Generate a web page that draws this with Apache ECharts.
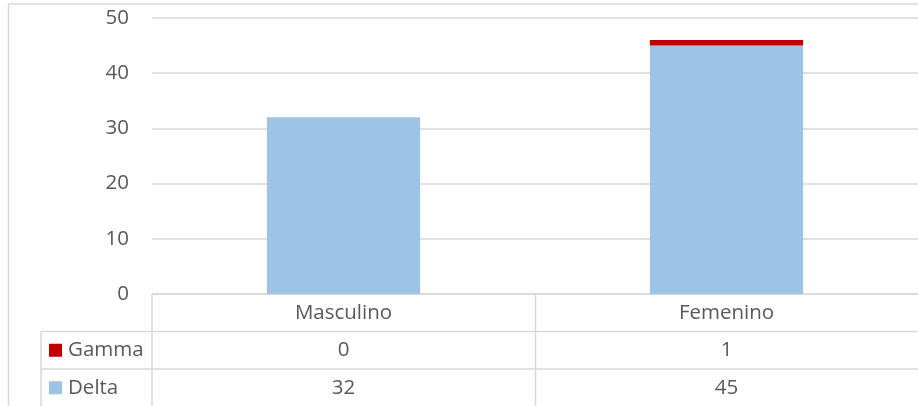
<!DOCTYPE html>
<html>
<head>
<meta charset="utf-8">
<script src="https://cdn.jsdelivr.net/npm/echarts@6/dist/echarts.min.js"></script>
<style>
html,body{margin:0;padding:0;background:#fff;}
#c{width:918px;height:406px;}
</style>
</head>
<body>
<div id="c"></div>
<script>
const categories = ['Masculino', 'Femenino'];
const seriesNames = ['Delta', 'Gamma'];
const deltaValues = [32, 45];
const gammaValues = [0, 1];
const yMin = 0, yMax = 50, yInterval = 10;

const FONT = '"Open Sans", sans-serif';
const FS = 20.5;
const TXT = '#595959';
const LINE = '#d9d9d9';
const colors = { Delta: '#9DC3E6', Gamma: '#C00000' };

const chart = echarts.init(document.getElementById('c'), null, { renderer: 'canvas' });

const option = {
  animation: false,
  backgroundColor: '#fff',
  grid: { left: 152, right: -1, top: 18, bottom: 112, containLabel: false },
  xAxis: {
    type: 'category',
    data: categories,
    axisLine: { show: false },
    axisTick: { show: false },
    axisLabel: { show: false },
    splitLine: { show: false }
  },
  yAxis: {
    type: 'value',
    min: yMin, max: yMax, interval: yInterval,
    axisLine: { show: false },
    axisTick: { show: false },
    axisLabel: { color: TXT, fontFamily: FONT, fontSize: FS, margin: 23 },
    splitLine: { lineStyle: { color: LINE, width: 1.5 } }
  },
  series: [
    { name: 'Delta', type: 'bar', stack: 's', data: deltaValues, barWidth: '40%', itemStyle: { color: colors.Delta } },
    { name: 'Gamma', type: 'bar', stack: 's', data: gammaValues, barWidth: '40%', itemStyle: { color: colors.Gamma } }
  ]
};
chart.setOption(option);

// Build data table below the plot (Excel-style)
const W = 918;
const left = 152, tableTop = 294, rowH = 37.5, legendLeft = 41;
const xs = categories.map((c) => chart.convertToPixel({ xAxisIndex: 0 }, c));
const bandW = (W + 1 - left) / categories.length;
const rows = [
  { name: 'Gamma', values: gammaValues },
  { name: 'Delta', values: deltaValues }
];
const g = [];
const lineStyle = { stroke: LINE, lineWidth: 1.5 };
const font = FS + 'px ' + FONT;
// outer frame (left + top)
g.push({ type: 'line', shape: { x1: 8.5, y1: 4, x2: W, y2: 4 }, style: lineStyle });
g.push({ type: 'line', shape: { x1: 8.5, y1: 4, x2: 8.5, y2: 406 }, style: lineStyle });
// header top line
g.push({ type: 'line', shape: { x1: left, y1: tableTop, x2: W, y2: tableTop }, style: lineStyle });
// row lines
for (let r = 0; r < rows.length; r++) {
  const y = tableTop + rowH * (r + 1);
  g.push({ type: 'line', shape: { x1: legendLeft, y1: y, x2: W, y2: y }, style: lineStyle });
}
// vertical lines
g.push({ type: 'line', shape: { x1: left, y1: tableTop, x2: left, y2: 406 }, style: lineStyle });
for (let i = 1; i < categories.length; i++) {
  const x = left + bandW * i;
  g.push({ type: 'line', shape: { x1: x, y1: tableTop, x2: x, y2: 406 }, style: lineStyle });
}
g.push({ type: 'line', shape: { x1: legendLeft, y1: tableTop + rowH, x2: legendLeft, y2: 406 }, style: lineStyle });
// header text
categories.forEach((c, i) => {
  g.push({ type: 'text', x: xs[i], y: tableTop + rowH / 2, style: { text: c, fill: TXT, font: font, align: 'center', verticalAlign: 'middle' } });
});
rows.forEach((row, r) => {
  const cy = tableTop + rowH * (r + 1) + rowH / 2;
  g.push({ type: 'rect', shape: { x: 49, y: cy - 6.5, width: 13, height: 13 }, style: { fill: colors[row.name] } });
  g.push({ type: 'text', x: 68, y: cy, style: { text: row.name, fill: TXT, font: font, align: 'left', verticalAlign: 'middle' } });
  row.values.forEach((v, i) => {
    g.push({ type: 'text', x: xs[i], y: cy, style: { text: String(v), fill: TXT, font: font, align: 'center', verticalAlign: 'middle' } });
  });
});
chart.setOption({ graphic: g });
</script>
</body>
</html>
